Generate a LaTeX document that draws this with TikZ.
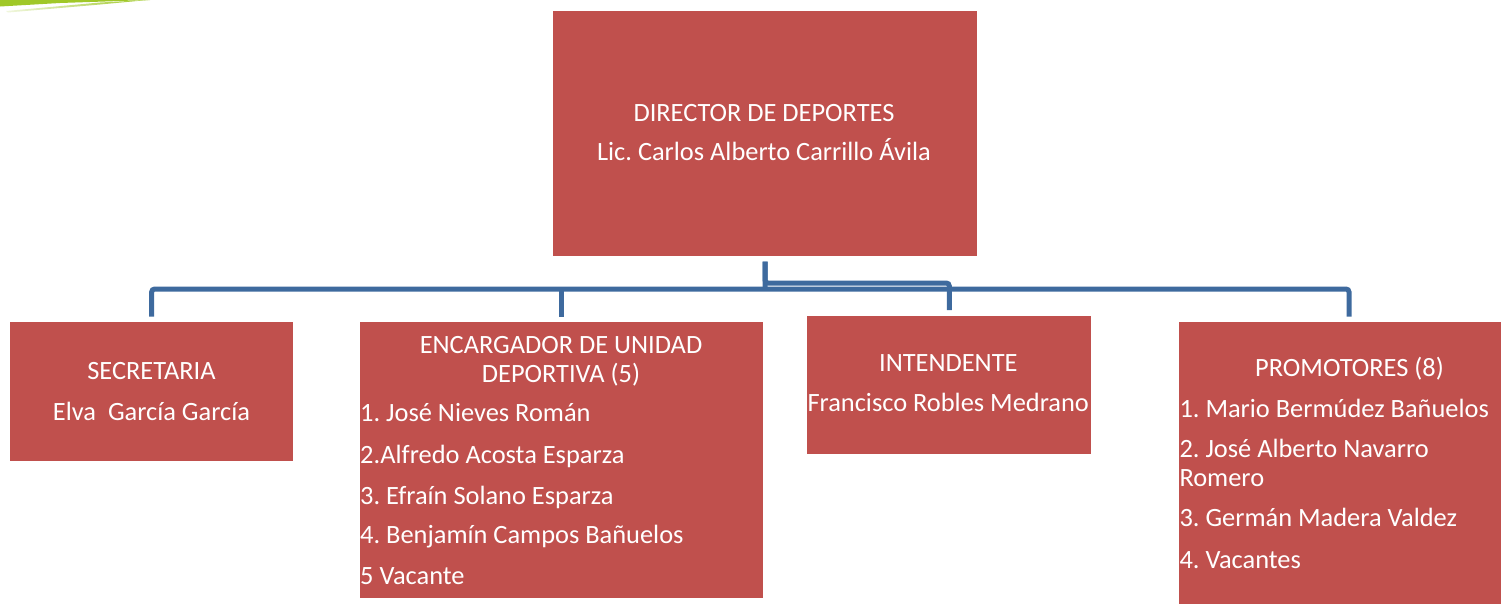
\documentclass[tikz,border=0pt]{standalone}
\usepackage{fontspec}
\setmainfont{Carlito}
\frenchspacing
\definecolor{boxred}{RGB}{192,80,77}
\definecolor{linkblue}{RGB}{62,106,158}
\definecolor{leaf}{RGB}{160,200,40}
\tikzset{
  orgbox/.style={draw=none,fill=boxred,anchor=north west,inner sep=0pt,outer sep=0pt},
  conn/.style={draw=linkblue,line width=5pt,rounded corners=3pt},
  lbl/.style={text=white,inner sep=0pt,font=\fontsize{26.4}{32}\selectfont},
}
\begin{document}
\begin{tikzpicture}[x=1pt,y=-1pt]
\useasboundingbox (0,0) rectangle (1501,603);
% decoration
\fill[leaf] (0,0) -- (150,0) -- (60,3) -- (0,6.5) -- cycle;
\shade[left color=leaf!15,right color=leaf] (6,11) -- (100,2.5) -- (148,0) -- (100,4.5) -- (8,12.5) -- cycle;
% boxes
\node[orgbox,minimum width=423.5pt,minimum height=245pt] (dir) at (553.3,11) {};
\node[orgbox,minimum width=283.3pt,minimum height=138.7pt] (sec) at (10,322) {};
\node[orgbox,minimum width=403.3pt,minimum height=276.3pt] (enc) at (360,322) {};
\node[orgbox,minimum width=284pt,minimum height=138.5pt] (int) at (807.3,315.5) {};
\node[orgbox,minimum width=339.4pt,minimum height=290pt] (pro) at (1179.3,322) {};
% connectors
\coordinate (hub) at (765,289);
\coordinate (hubi) at (765,283);
\draw[conn] ([yshift=-5.5pt]dir.south) -- (hub);
\draw[conn] ([yshift=5.5pt]sec.north) |- (hub) -| ([yshift=5.5pt]pro.north);
\draw[conn] ([yshift=5.5pt]enc.north) -- (enc.north |- hub);
\draw[conn] ([yshift=-5.5pt]dir.south) -- (hubi) -| ([yshift=5.5pt]int.north);
% texts
\node[lbl,anchor=base] (d1) at (764,121.7) {DIRECTOR DE DEPORTES};
\node[lbl,anchor=base] (d2) at (764,160.7) {Lic. Carlos Alberto Carrillo Ávila};
\node[lbl,anchor=base] (s1) at (151.5,379.3) {SECRETARIA};
\node[lbl,anchor=base] (s2) at (151.5,420) {Elva\ \ García García};
\node[lbl,anchor=base] (e1) at (561,353.3) {ENCARGADOR DE UNIDAD};
\node[lbl,anchor=base] (e2) at (561,382.3) {DEPORTIVA (5)};
\node[lbl,anchor=base west] (e3) at (360,421.7) {1. José Nieves Román};
\node[lbl,anchor=base west] (e4) at (360,463) {2.Alfredo Acosta Esparza};
\node[lbl,anchor=base west] (e5) at (360,504) {3. Efraín Solano Esparza};
\node[lbl,anchor=base west] (e6) at (360,543) {4. Benjamín Campos Bañuelos};
\node[lbl,anchor=base west] (e7) at (360,584) {5 Vacante};
\node[lbl,anchor=base] (i1) at (948.3,371.7) {INTENDENTE};
\node[lbl,anchor=base west] (i2) at (807.3,411.7) {Francisco Robles Medrano};
\node[lbl,anchor=base] (p1) at (1349.5,376.7) {PROMOTORES (8)};
\node[lbl,anchor=base west] (p2) at (1179.3,417.3) {1. Mario Bermúdez Bañuelos};
\node[lbl,anchor=base west] (p3) at (1179.3,457.3) {2. José Alberto Navarro};
\node[lbl,anchor=base west] (p4) at (1179.3,486.7) {Romero};
\node[lbl,anchor=base west] (p5) at (1179.3,526.7) {3. Germán Madera Valdez};
\node[lbl,anchor=base west] (p6) at (1179.3,568.3) {4. Vacantes};
\end{tikzpicture}
\end{document}
